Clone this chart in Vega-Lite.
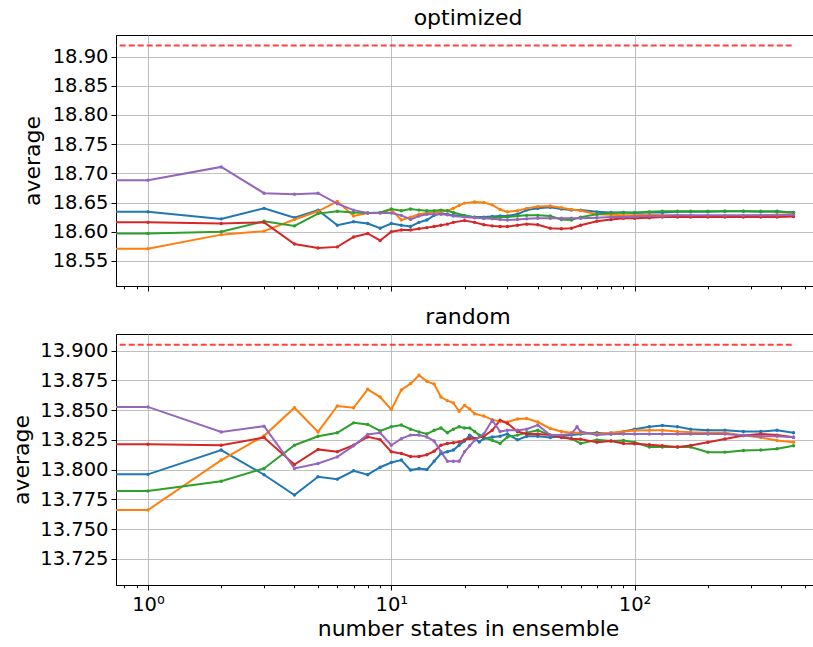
{
"$schema": "https://vega.github.io/schema/vega-lite/v6.json",
"background": "white",
"padding": {"left": 10, "top": 6, "right": 0, "bottom": 0},
"spacing": 13,
"config": {
  "font": "DejaVu Sans",
  "view": {"stroke": "black", "strokeWidth": 1},
  "axis": {"domainColor": "black", "tickColor": "black", "labelColor": "black", "titleColor": "black", "labelFontSize": 19.5, "titleFontSize": 22, "titleFontWeight": "normal", "gridColor": "#b0b0b0", "gridWidth": 0.8, "labelFont": "DejaVu Sans", "titleFont": "DejaVu Sans"},
  "title": {"fontSize": 22, "fontWeight": "normal", "font": "DejaVu Sans", "color": "black", "offset": 5}
},
"datasets": {
  "refs": [
    {"p": "optimized", "x0": 0.5, "x1": 450, "y": 18.919},
    {"p": "random", "x0": 0.5, "x1": 450, "y": 13.905}
  ],
  "series": [
    {"p":"optimized","s":"s0","n":0.5,"v":18.634},{"p":"optimized","s":"s0","n":1,"v":18.634},{"p":"optimized","s":"s0","n":2,"v":18.622},{"p":"optimized","s":"s0","n":3,"v":18.640},{"p":"optimized","s":"s0","n":4,"v":18.624},{"p":"optimized","s":"s0","n":5,"v":18.637},{"p":"optimized","s":"s0","n":6,"v":18.611},{"p":"optimized","s":"s0","n":7,"v":18.617},{"p":"optimized","s":"s0","n":8,"v":18.614},{"p":"optimized","s":"s0","n":9,"v":18.606},{"p":"optimized","s":"s0","n":10,"v":18.614},{"p":"optimized","s":"s0","n":11,"v":18.611},{"p":"optimized","s":"s0","n":12,"v":18.609},{"p":"optimized","s":"s0","n":13,"v":18.616},{"p":"optimized","s":"s0","n":14,"v":18.620},{"p":"optimized","s":"s0","n":15,"v":18.628},{"p":"optimized","s":"s0","n":16,"v":18.631},{"p":"optimized","s":"s0","n":17,"v":18.630},{"p":"optimized","s":"s0","n":18,"v":18.628},{"p":"optimized","s":"s0","n":20,"v":18.627},{"p":"optimized","s":"s0","n":22,"v":18.625},{"p":"optimized","s":"s0","n":24,"v":18.625},{"p":"optimized","s":"s0","n":26,"v":18.626},{"p":"optimized","s":"s0","n":28,"v":18.627},{"p":"optimized","s":"s0","n":30,"v":18.627},{"p":"optimized","s":"s0","n":33,"v":18.630},{"p":"optimized","s":"s0","n":36,"v":18.637},{"p":"optimized","s":"s0","n":40,"v":18.640},{"p":"optimized","s":"s0","n":45,"v":18.642},{"p":"optimized","s":"s0","n":50,"v":18.639},{"p":"optimized","s":"s0","n":55,"v":18.637},{"p":"optimized","s":"s0","n":60,"v":18.637},{"p":"optimized","s":"s0","n":70,"v":18.634},{"p":"optimized","s":"s0","n":80,"v":18.633},{"p":"optimized","s":"s0","n":90,"v":18.633},{"p":"optimized","s":"s0","n":100,"v":18.632},{"p":"optimized","s":"s0","n":115,"v":18.633},{"p":"optimized","s":"s0","n":130,"v":18.633},{"p":"optimized","s":"s0","n":150,"v":18.634},{"p":"optimized","s":"s0","n":170,"v":18.634},{"p":"optimized","s":"s0","n":200,"v":18.634},{"p":"optimized","s":"s0","n":235,"v":18.635},{"p":"optimized","s":"s0","n":280,"v":18.635},{"p":"optimized","s":"s0","n":330,"v":18.634},{"p":"optimized","s":"s0","n":385,"v":18.635},{"p":"optimized","s":"s0","n":450,"v":18.633},
    {"p":"optimized","s":"s1","n":0.5,"v":18.571},{"p":"optimized","s":"s1","n":1,"v":18.571},{"p":"optimized","s":"s1","n":2,"v":18.595},{"p":"optimized","s":"s1","n":3,"v":18.601},{"p":"optimized","s":"s1","n":4,"v":18.621},{"p":"optimized","s":"s1","n":5,"v":18.635},{"p":"optimized","s":"s1","n":6,"v":18.652},{"p":"optimized","s":"s1","n":7,"v":18.627},{"p":"optimized","s":"s1","n":8,"v":18.632},{"p":"optimized","s":"s1","n":9,"v":18.632},{"p":"optimized","s":"s1","n":10,"v":18.638},{"p":"optimized","s":"s1","n":11,"v":18.620},{"p":"optimized","s":"s1","n":12,"v":18.625},{"p":"optimized","s":"s1","n":13,"v":18.630},{"p":"optimized","s":"s1","n":14,"v":18.632},{"p":"optimized","s":"s1","n":15,"v":18.633},{"p":"optimized","s":"s1","n":16,"v":18.634},{"p":"optimized","s":"s1","n":17,"v":18.636},{"p":"optimized","s":"s1","n":18,"v":18.640},{"p":"optimized","s":"s1","n":19,"v":18.645},{"p":"optimized","s":"s1","n":20,"v":18.649},{"p":"optimized","s":"s1","n":22,"v":18.651},{"p":"optimized","s":"s1","n":24,"v":18.650},{"p":"optimized","s":"s1","n":26,"v":18.646},{"p":"optimized","s":"s1","n":28,"v":18.638},{"p":"optimized","s":"s1","n":30,"v":18.634},{"p":"optimized","s":"s1","n":33,"v":18.636},{"p":"optimized","s":"s1","n":36,"v":18.640},{"p":"optimized","s":"s1","n":40,"v":18.643},{"p":"optimized","s":"s1","n":45,"v":18.644},{"p":"optimized","s":"s1","n":50,"v":18.641},{"p":"optimized","s":"s1","n":55,"v":18.638},{"p":"optimized","s":"s1","n":60,"v":18.636},{"p":"optimized","s":"s1","n":70,"v":18.630},{"p":"optimized","s":"s1","n":80,"v":18.629},{"p":"optimized","s":"s1","n":90,"v":18.628},{"p":"optimized","s":"s1","n":100,"v":18.628},{"p":"optimized","s":"s1","n":115,"v":18.629},{"p":"optimized","s":"s1","n":130,"v":18.628},{"p":"optimized","s":"s1","n":150,"v":18.628},{"p":"optimized","s":"s1","n":170,"v":18.627},{"p":"optimized","s":"s1","n":200,"v":18.627},{"p":"optimized","s":"s1","n":235,"v":18.626},{"p":"optimized","s":"s1","n":280,"v":18.627},{"p":"optimized","s":"s1","n":330,"v":18.628},{"p":"optimized","s":"s1","n":385,"v":18.629},{"p":"optimized","s":"s1","n":450,"v":18.630},
    {"p":"optimized","s":"s2","n":0.5,"v":18.597},{"p":"optimized","s":"s2","n":1,"v":18.597},{"p":"optimized","s":"s2","n":2,"v":18.600},{"p":"optimized","s":"s2","n":3,"v":18.618},{"p":"optimized","s":"s2","n":4,"v":18.610},{"p":"optimized","s":"s2","n":5,"v":18.631},{"p":"optimized","s":"s2","n":6,"v":18.635},{"p":"optimized","s":"s2","n":7,"v":18.633},{"p":"optimized","s":"s2","n":8,"v":18.632},{"p":"optimized","s":"s2","n":9,"v":18.633},{"p":"optimized","s":"s2","n":10,"v":18.639},{"p":"optimized","s":"s2","n":11,"v":18.636},{"p":"optimized","s":"s2","n":12,"v":18.639},{"p":"optimized","s":"s2","n":13,"v":18.637},{"p":"optimized","s":"s2","n":14,"v":18.636},{"p":"optimized","s":"s2","n":15,"v":18.636},{"p":"optimized","s":"s2","n":16,"v":18.637},{"p":"optimized","s":"s2","n":17,"v":18.636},{"p":"optimized","s":"s2","n":18,"v":18.633},{"p":"optimized","s":"s2","n":20,"v":18.628},{"p":"optimized","s":"s2","n":22,"v":18.625},{"p":"optimized","s":"s2","n":24,"v":18.623},{"p":"optimized","s":"s2","n":26,"v":18.624},{"p":"optimized","s":"s2","n":28,"v":18.625},{"p":"optimized","s":"s2","n":30,"v":18.625},{"p":"optimized","s":"s2","n":33,"v":18.627},{"p":"optimized","s":"s2","n":36,"v":18.628},{"p":"optimized","s":"s2","n":40,"v":18.628},{"p":"optimized","s":"s2","n":45,"v":18.627},{"p":"optimized","s":"s2","n":50,"v":18.621},{"p":"optimized","s":"s2","n":55,"v":18.620},{"p":"optimized","s":"s2","n":60,"v":18.625},{"p":"optimized","s":"s2","n":70,"v":18.630},{"p":"optimized","s":"s2","n":80,"v":18.632},{"p":"optimized","s":"s2","n":90,"v":18.633},{"p":"optimized","s":"s2","n":100,"v":18.633},{"p":"optimized","s":"s2","n":115,"v":18.634},{"p":"optimized","s":"s2","n":130,"v":18.635},{"p":"optimized","s":"s2","n":150,"v":18.635},{"p":"optimized","s":"s2","n":170,"v":18.635},{"p":"optimized","s":"s2","n":200,"v":18.635},{"p":"optimized","s":"s2","n":235,"v":18.635},{"p":"optimized","s":"s2","n":280,"v":18.635},{"p":"optimized","s":"s2","n":330,"v":18.635},{"p":"optimized","s":"s2","n":385,"v":18.634},{"p":"optimized","s":"s2","n":450,"v":18.633},
    {"p":"optimized","s":"s3","n":0.5,"v":18.616},{"p":"optimized","s":"s3","n":1,"v":18.616},{"p":"optimized","s":"s3","n":2,"v":18.614},{"p":"optimized","s":"s3","n":3,"v":18.616},{"p":"optimized","s":"s3","n":4,"v":18.579},{"p":"optimized","s":"s3","n":5,"v":18.572},{"p":"optimized","s":"s3","n":6,"v":18.574},{"p":"optimized","s":"s3","n":7,"v":18.591},{"p":"optimized","s":"s3","n":8,"v":18.597},{"p":"optimized","s":"s3","n":9,"v":18.585},{"p":"optimized","s":"s3","n":10,"v":18.600},{"p":"optimized","s":"s3","n":11,"v":18.603},{"p":"optimized","s":"s3","n":12,"v":18.603},{"p":"optimized","s":"s3","n":13,"v":18.605},{"p":"optimized","s":"s3","n":14,"v":18.607},{"p":"optimized","s":"s3","n":15,"v":18.609},{"p":"optimized","s":"s3","n":16,"v":18.611},{"p":"optimized","s":"s3","n":17,"v":18.613},{"p":"optimized","s":"s3","n":18,"v":18.616},{"p":"optimized","s":"s3","n":20,"v":18.619},{"p":"optimized","s":"s3","n":22,"v":18.616},{"p":"optimized","s":"s3","n":24,"v":18.612},{"p":"optimized","s":"s3","n":26,"v":18.610},{"p":"optimized","s":"s3","n":28,"v":18.609},{"p":"optimized","s":"s3","n":30,"v":18.609},{"p":"optimized","s":"s3","n":33,"v":18.611},{"p":"optimized","s":"s3","n":36,"v":18.613},{"p":"optimized","s":"s3","n":40,"v":18.612},{"p":"optimized","s":"s3","n":45,"v":18.606},{"p":"optimized","s":"s3","n":50,"v":18.605},{"p":"optimized","s":"s3","n":55,"v":18.606},{"p":"optimized","s":"s3","n":60,"v":18.611},{"p":"optimized","s":"s3","n":70,"v":18.618},{"p":"optimized","s":"s3","n":80,"v":18.621},{"p":"optimized","s":"s3","n":90,"v":18.623},{"p":"optimized","s":"s3","n":100,"v":18.623},{"p":"optimized","s":"s3","n":115,"v":18.624},{"p":"optimized","s":"s3","n":130,"v":18.625},{"p":"optimized","s":"s3","n":150,"v":18.625},{"p":"optimized","s":"s3","n":170,"v":18.625},{"p":"optimized","s":"s3","n":200,"v":18.625},{"p":"optimized","s":"s3","n":235,"v":18.625},{"p":"optimized","s":"s3","n":280,"v":18.625},{"p":"optimized","s":"s3","n":330,"v":18.625},{"p":"optimized","s":"s3","n":385,"v":18.625},{"p":"optimized","s":"s3","n":450,"v":18.626},
    {"p":"optimized","s":"s4","n":0.5,"v":18.688},{"p":"optimized","s":"s4","n":1,"v":18.688},{"p":"optimized","s":"s4","n":2,"v":18.711},{"p":"optimized","s":"s4","n":3,"v":18.666},{"p":"optimized","s":"s4","n":4,"v":18.664},{"p":"optimized","s":"s4","n":5,"v":18.666},{"p":"optimized","s":"s4","n":6,"v":18.648},{"p":"optimized","s":"s4","n":7,"v":18.637},{"p":"optimized","s":"s4","n":8,"v":18.632},{"p":"optimized","s":"s4","n":9,"v":18.632},{"p":"optimized","s":"s4","n":10,"v":18.632},{"p":"optimized","s":"s4","n":11,"v":18.628},{"p":"optimized","s":"s4","n":12,"v":18.621},{"p":"optimized","s":"s4","n":13,"v":18.627},{"p":"optimized","s":"s4","n":14,"v":18.630},{"p":"optimized","s":"s4","n":15,"v":18.630},{"p":"optimized","s":"s4","n":16,"v":18.630},{"p":"optimized","s":"s4","n":17,"v":18.629},{"p":"optimized","s":"s4","n":18,"v":18.627},{"p":"optimized","s":"s4","n":20,"v":18.625},{"p":"optimized","s":"s4","n":22,"v":18.624},{"p":"optimized","s":"s4","n":24,"v":18.623},{"p":"optimized","s":"s4","n":26,"v":18.622},{"p":"optimized","s":"s4","n":28,"v":18.621},{"p":"optimized","s":"s4","n":30,"v":18.620},{"p":"optimized","s":"s4","n":33,"v":18.621},{"p":"optimized","s":"s4","n":36,"v":18.622},{"p":"optimized","s":"s4","n":40,"v":18.623},{"p":"optimized","s":"s4","n":45,"v":18.623},{"p":"optimized","s":"s4","n":50,"v":18.623},{"p":"optimized","s":"s4","n":55,"v":18.623},{"p":"optimized","s":"s4","n":60,"v":18.623},{"p":"optimized","s":"s4","n":70,"v":18.624},{"p":"optimized","s":"s4","n":80,"v":18.625},{"p":"optimized","s":"s4","n":90,"v":18.625},{"p":"optimized","s":"s4","n":100,"v":18.626},{"p":"optimized","s":"s4","n":115,"v":18.627},{"p":"optimized","s":"s4","n":130,"v":18.627},{"p":"optimized","s":"s4","n":150,"v":18.628},{"p":"optimized","s":"s4","n":170,"v":18.628},{"p":"optimized","s":"s4","n":200,"v":18.628},{"p":"optimized","s":"s4","n":235,"v":18.628},{"p":"optimized","s":"s4","n":280,"v":18.628},{"p":"optimized","s":"s4","n":330,"v":18.628},{"p":"optimized","s":"s4","n":385,"v":18.628},{"p":"optimized","s":"s4","n":450,"v":18.629},

    {"p":"random","s":"s0","n":0.5,"v":13.796},{"p":"random","s":"s0","n":1,"v":13.796},{"p":"random","s":"s0","n":2,"v":13.8164},{"p":"random","s":"s0","n":3,"v":13.7957},{"p":"random","s":"s0","n":4,"v":13.7786},{"p":"random","s":"s0","n":5,"v":13.794},{"p":"random","s":"s0","n":6,"v":13.792},{"p":"random","s":"s0","n":7,"v":13.799},{"p":"random","s":"s0","n":8,"v":13.7957},{"p":"random","s":"s0","n":9,"v":13.802},{"p":"random","s":"s0","n":10,"v":13.806},{"p":"random","s":"s0","n":11,"v":13.808},{"p":"random","s":"s0","n":12,"v":13.7996},{"p":"random","s":"s0","n":13,"v":13.801},{"p":"random","s":"s0","n":14,"v":13.800},{"p":"random","s":"s0","n":15,"v":13.807},{"p":"random","s":"s0","n":16,"v":13.8136},{"p":"random","s":"s0","n":17,"v":13.815},{"p":"random","s":"s0","n":18,"v":13.8165},{"p":"random","s":"s0","n":19,"v":13.8205},{"p":"random","s":"s0","n":20,"v":13.824},{"p":"random","s":"s0","n":21,"v":13.829},{"p":"random","s":"s0","n":22,"v":13.826},{"p":"random","s":"s0","n":23,"v":13.8233},{"p":"random","s":"s0","n":24,"v":13.826},{"p":"random","s":"s0","n":26,"v":13.8275},{"p":"random","s":"s0","n":28,"v":13.828},{"p":"random","s":"s0","n":30,"v":13.830},{"p":"random","s":"s0","n":33,"v":13.825},{"p":"random","s":"s0","n":36,"v":13.828},{"p":"random","s":"s0","n":40,"v":13.828},{"p":"random","s":"s0","n":45,"v":13.827},{"p":"random","s":"s0","n":50,"v":13.828},{"p":"random","s":"s0","n":55,"v":13.829},{"p":"random","s":"s0","n":60,"v":13.830},{"p":"random","s":"s0","n":70,"v":13.831},{"p":"random","s":"s0","n":80,"v":13.830},{"p":"random","s":"s0","n":90,"v":13.832},{"p":"random","s":"s0","n":100,"v":13.834},{"p":"random","s":"s0","n":115,"v":13.836},{"p":"random","s":"s0","n":130,"v":13.837},{"p":"random","s":"s0","n":150,"v":13.836},{"p":"random","s":"s0","n":170,"v":13.834},{"p":"random","s":"s0","n":200,"v":13.833},{"p":"random","s":"s0","n":235,"v":13.833},{"p":"random","s":"s0","n":280,"v":13.832},{"p":"random","s":"s0","n":330,"v":13.832},{"p":"random","s":"s0","n":385,"v":13.833},{"p":"random","s":"s0","n":450,"v":13.831},
    {"p":"random","s":"s1","n":0.5,"v":13.766},{"p":"random","s":"s1","n":1,"v":13.766},{"p":"random","s":"s1","n":2,"v":13.808},{"p":"random","s":"s1","n":3,"v":13.8284},{"p":"random","s":"s1","n":4,"v":13.852},{"p":"random","s":"s1","n":5,"v":13.8317},{"p":"random","s":"s1","n":6,"v":13.8535},{"p":"random","s":"s1","n":7,"v":13.852},{"p":"random","s":"s1","n":8,"v":13.8675},{"p":"random","s":"s1","n":9,"v":13.861},{"p":"random","s":"s1","n":10,"v":13.8505},{"p":"random","s":"s1","n":11,"v":13.867},{"p":"random","s":"s1","n":12,"v":13.8723},{"p":"random","s":"s1","n":13,"v":13.8793},{"p":"random","s":"s1","n":14,"v":13.8742},{"p":"random","s":"s1","n":15,"v":13.872},{"p":"random","s":"s1","n":16,"v":13.861},{"p":"random","s":"s1","n":17,"v":13.858},{"p":"random","s":"s1","n":18,"v":13.856},{"p":"random","s":"s1","n":19,"v":13.849},{"p":"random","s":"s1","n":20,"v":13.854},{"p":"random","s":"s1","n":21,"v":13.851},{"p":"random","s":"s1","n":22,"v":13.847},{"p":"random","s":"s1","n":24,"v":13.845},{"p":"random","s":"s1","n":26,"v":13.842},{"p":"random","s":"s1","n":28,"v":13.8405},{"p":"random","s":"s1","n":30,"v":13.840},{"p":"random","s":"s1","n":33,"v":13.8425},{"p":"random","s":"s1","n":36,"v":13.843},{"p":"random","s":"s1","n":40,"v":13.840},{"p":"random","s":"s1","n":45,"v":13.8346},{"p":"random","s":"s1","n":50,"v":13.832},{"p":"random","s":"s1","n":55,"v":13.831},{"p":"random","s":"s1","n":60,"v":13.831},{"p":"random","s":"s1","n":70,"v":13.830},{"p":"random","s":"s1","n":80,"v":13.831},{"p":"random","s":"s1","n":90,"v":13.832},{"p":"random","s":"s1","n":100,"v":13.8328},{"p":"random","s":"s1","n":115,"v":13.833},{"p":"random","s":"s1","n":130,"v":13.833},{"p":"random","s":"s1","n":150,"v":13.832},{"p":"random","s":"s1","n":170,"v":13.8314},{"p":"random","s":"s1","n":200,"v":13.831},{"p":"random","s":"s1","n":235,"v":13.831},{"p":"random","s":"s1","n":280,"v":13.8286},{"p":"random","s":"s1","n":330,"v":13.827},{"p":"random","s":"s1","n":385,"v":13.8244},{"p":"random","s":"s1","n":450,"v":13.823},
    {"p":"random","s":"s2","n":0.5,"v":13.782},{"p":"random","s":"s2","n":1,"v":13.782},{"p":"random","s":"s2","n":2,"v":13.7903},{"p":"random","s":"s2","n":3,"v":13.801},{"p":"random","s":"s2","n":4,"v":13.8205},{"p":"random","s":"s2","n":5,"v":13.828},{"p":"random","s":"s2","n":6,"v":13.831},{"p":"random","s":"s2","n":7,"v":13.8393},{"p":"random","s":"s2","n":8,"v":13.838},{"p":"random","s":"s2","n":9,"v":13.8325},{"p":"random","s":"s2","n":10,"v":13.836},{"p":"random","s":"s2","n":11,"v":13.8375},{"p":"random","s":"s2","n":12,"v":13.834},{"p":"random","s":"s2","n":13,"v":13.8317},{"p":"random","s":"s2","n":14,"v":13.830},{"p":"random","s":"s2","n":15,"v":13.833},{"p":"random","s":"s2","n":16,"v":13.835},{"p":"random","s":"s2","n":17,"v":13.831},{"p":"random","s":"s2","n":18,"v":13.834},{"p":"random","s":"s2","n":19,"v":13.836},{"p":"random","s":"s2","n":20,"v":13.835},{"p":"random","s":"s2","n":21,"v":13.835},{"p":"random","s":"s2","n":22,"v":13.832},{"p":"random","s":"s2","n":23,"v":13.829},{"p":"random","s":"s2","n":24,"v":13.827},{"p":"random","s":"s2","n":26,"v":13.8247},{"p":"random","s":"s2","n":28,"v":13.822},{"p":"random","s":"s2","n":30,"v":13.8275},{"p":"random","s":"s2","n":33,"v":13.829},{"p":"random","s":"s2","n":36,"v":13.831},{"p":"random","s":"s2","n":40,"v":13.833},{"p":"random","s":"s2","n":45,"v":13.829},{"p":"random","s":"s2","n":50,"v":13.8275},{"p":"random","s":"s2","n":55,"v":13.826},{"p":"random","s":"s2","n":60,"v":13.822},{"p":"random","s":"s2","n":70,"v":13.825},{"p":"random","s":"s2","n":80,"v":13.824},{"p":"random","s":"s2","n":90,"v":13.8245},{"p":"random","s":"s2","n":100,"v":13.823},{"p":"random","s":"s2","n":115,"v":13.819},{"p":"random","s":"s2","n":130,"v":13.819},{"p":"random","s":"s2","n":150,"v":13.819},{"p":"random","s":"s2","n":170,"v":13.819},{"p":"random","s":"s2","n":200,"v":13.8147},{"p":"random","s":"s2","n":235,"v":13.8147},{"p":"random","s":"s2","n":280,"v":13.816},{"p":"random","s":"s2","n":330,"v":13.8165},{"p":"random","s":"s2","n":385,"v":13.8175},{"p":"random","s":"s2","n":450,"v":13.820},
    {"p":"random","s":"s3","n":0.5,"v":13.8214},{"p":"random","s":"s3","n":1,"v":13.8214},{"p":"random","s":"s3","n":2,"v":13.8205},{"p":"random","s":"s3","n":3,"v":13.827},{"p":"random","s":"s3","n":4,"v":13.8043},{"p":"random","s":"s3","n":5,"v":13.817},{"p":"random","s":"s3","n":6,"v":13.815},{"p":"random","s":"s3","n":7,"v":13.8205},{"p":"random","s":"s3","n":8,"v":13.8275},{"p":"random","s":"s3","n":9,"v":13.8252},{"p":"random","s":"s3","n":10,"v":13.815},{"p":"random","s":"s3","n":11,"v":13.8135},{"p":"random","s":"s3","n":12,"v":13.811},{"p":"random","s":"s3","n":13,"v":13.811},{"p":"random","s":"s3","n":14,"v":13.8125},{"p":"random","s":"s3","n":15,"v":13.8155},{"p":"random","s":"s3","n":16,"v":13.8205},{"p":"random","s":"s3","n":17,"v":13.822},{"p":"random","s":"s3","n":18,"v":13.8225},{"p":"random","s":"s3","n":19,"v":13.8233},{"p":"random","s":"s3","n":20,"v":13.825},{"p":"random","s":"s3","n":21,"v":13.8261},{"p":"random","s":"s3","n":22,"v":13.826},{"p":"random","s":"s3","n":24,"v":13.828},{"p":"random","s":"s3","n":26,"v":13.833},{"p":"random","s":"s3","n":28,"v":13.8415},{"p":"random","s":"s3","n":30,"v":13.839},{"p":"random","s":"s3","n":33,"v":13.832},{"p":"random","s":"s3","n":36,"v":13.830},{"p":"random","s":"s3","n":40,"v":13.830},{"p":"random","s":"s3","n":45,"v":13.829},{"p":"random","s":"s3","n":50,"v":13.827},{"p":"random","s":"s3","n":55,"v":13.826},{"p":"random","s":"s3","n":60,"v":13.8255},{"p":"random","s":"s3","n":70,"v":13.823},{"p":"random","s":"s3","n":80,"v":13.824},{"p":"random","s":"s3","n":90,"v":13.822},{"p":"random","s":"s3","n":100,"v":13.8217},{"p":"random","s":"s3","n":115,"v":13.821},{"p":"random","s":"s3","n":130,"v":13.820},{"p":"random","s":"s3","n":150,"v":13.819},{"p":"random","s":"s3","n":170,"v":13.8203},{"p":"random","s":"s3","n":200,"v":13.823},{"p":"random","s":"s3","n":235,"v":13.8258},{"p":"random","s":"s3","n":280,"v":13.8286},{"p":"random","s":"s3","n":330,"v":13.830},{"p":"random","s":"s3","n":385,"v":13.829},{"p":"random","s":"s3","n":450,"v":13.8272},
    {"p":"random","s":"s4","n":0.5,"v":13.8527},{"p":"random","s":"s4","n":1,"v":13.8527},{"p":"random","s":"s4","n":2,"v":13.8317},{"p":"random","s":"s4","n":3,"v":13.8365},{"p":"random","s":"s4","n":4,"v":13.801},{"p":"random","s":"s4","n":5,"v":13.8052},{"p":"random","s":"s4","n":6,"v":13.8107},{"p":"random","s":"s4","n":7,"v":13.820},{"p":"random","s":"s4","n":8,"v":13.8295},{"p":"random","s":"s4","n":9,"v":13.831},{"p":"random","s":"s4","n":10,"v":13.8205},{"p":"random","s":"s4","n":11,"v":13.826},{"p":"random","s":"s4","n":12,"v":13.829},{"p":"random","s":"s4","n":13,"v":13.829},{"p":"random","s":"s4","n":14,"v":13.8275},{"p":"random","s":"s4","n":15,"v":13.824},{"p":"random","s":"s4","n":16,"v":13.815},{"p":"random","s":"s4","n":17,"v":13.8071},{"p":"random","s":"s4","n":18,"v":13.807},{"p":"random","s":"s4","n":19,"v":13.807},{"p":"random","s":"s4","n":20,"v":13.815},{"p":"random","s":"s4","n":21,"v":13.820},{"p":"random","s":"s4","n":22,"v":13.8247},{"p":"random","s":"s4","n":24,"v":13.830},{"p":"random","s":"s4","n":26,"v":13.8415},{"p":"random","s":"s4","n":28,"v":13.832},{"p":"random","s":"s4","n":30,"v":13.833},{"p":"random","s":"s4","n":33,"v":13.833},{"p":"random","s":"s4","n":36,"v":13.834},{"p":"random","s":"s4","n":40,"v":13.8374},{"p":"random","s":"s4","n":45,"v":13.829},{"p":"random","s":"s4","n":50,"v":13.829},{"p":"random","s":"s4","n":55,"v":13.830},{"p":"random","s":"s4","n":58,"v":13.836},{"p":"random","s":"s4","n":60,"v":13.832},{"p":"random","s":"s4","n":70,"v":13.829},{"p":"random","s":"s4","n":80,"v":13.830},{"p":"random","s":"s4","n":90,"v":13.830},{"p":"random","s":"s4","n":100,"v":13.830},{"p":"random","s":"s4","n":115,"v":13.830},{"p":"random","s":"s4","n":130,"v":13.830},{"p":"random","s":"s4","n":150,"v":13.830},{"p":"random","s":"s4","n":170,"v":13.830},{"p":"random","s":"s4","n":200,"v":13.830},{"p":"random","s":"s4","n":235,"v":13.830},{"p":"random","s":"s4","n":280,"v":13.8286},{"p":"random","s":"s4","n":330,"v":13.828},{"p":"random","s":"s4","n":385,"v":13.828},{"p":"random","s":"s4","n":450,"v":13.8272}
  ]
},
"vconcat": [
  {
    "title": "optimized",
    "width": 704,
    "height": 251,
    "layer": [
      {
        "data": {"name": "refs"},
        "transform": [{"filter": "datum.p == 'optimized'"}],
        "mark": {"type": "rule", "color": "#ff2020", "opacity": 0.85, "strokeDash": [6, 3], "strokeWidth": 2, "clip": true},
        "encoding": {
          "x": {"field": "x0", "type": "quantitative", "title": null},
          "x2": {"field": "x1"},
          "y": {"field": "y", "type": "quantitative", "title": "average"}
        }
      },
      {
        "data": {"name": "series"},
        "transform": [{"filter": "datum.p == 'optimized'"}],
        "mark": {"type": "line", "strokeWidth": 2, "clip": true, "point": {"filled": true, "size": 12}},
        "encoding": {
          "x": {"field": "n", "type": "quantitative", "title": null,
            "scale": {"type": "log", "domain": [0.739, 578], "nice": false},
            "axis": {"values": [0.8,0.9,1,2,3,4,5,6,7,8,9,10,20,30,40,50,60,70,80,90,100,200,300,400,500],
              "tickCount": 60,
              "labels": false,
              "tickSize": {"condition": {"test": "datum.value==1||datum.value==10||datum.value==100", "value": 5}, "value": 2.8},
              "gridOpacity": {"condition": {"test": "datum.value==1||datum.value==10||datum.value==100", "value": 1}, "value": 0}}},
          "y": {"field": "v", "type": "quantitative", "title": "average",
            "scale": {"domain": [18.507, 18.937], "nice": false, "zero": false},
            "axis": {"values": [18.55,18.6,18.65,18.7,18.75,18.8,18.85,18.9], "tickCount": 20, "format": ".2f", "labelOverlap": false, "tickSize": 5, "labelPadding": 3, "titlePadding": 8}},
          "color": {"field": "s", "type": "nominal", "legend": null,
            "scale": {"domain": ["s0","s1","s2","s3","s4"], "range": ["#1f77b4","#ff7f0e","#2ca02c","#d62728","#9467bd"]}}
        }
      }
    ]
  },
  {
    "title": "random",
    "width": 704,
    "height": 251,
    "layer": [
      {
        "data": {"name": "refs"},
        "transform": [{"filter": "datum.p == 'random'"}],
        "mark": {"type": "rule", "color": "#ff2020", "opacity": 0.85, "strokeDash": [6, 3], "strokeWidth": 2, "clip": true},
        "encoding": {
          "x": {"field": "x0", "type": "quantitative", "title": "number states in ensemble"},
          "x2": {"field": "x1"},
          "y": {"field": "y", "type": "quantitative", "title": "average"}
        }
      },
      {
        "data": {"name": "series"},
        "transform": [{"filter": "datum.p == 'random'"}],
        "mark": {"type": "line", "strokeWidth": 2, "clip": true, "point": {"filled": true, "size": 12}},
        "encoding": {
          "x": {"field": "n", "type": "quantitative", "title": "number states in ensemble",
            "scale": {"type": "log", "domain": [0.739, 578], "nice": false},
            "axis": {"values": [0.8,0.9,1,2,3,4,5,6,7,8,9,10,20,30,40,50,60,70,80,90,100,200,300,400,500],
              "tickCount": 60,
              "labelExpr": "datum.value==1 ? '10⁰' : datum.value==10 ? '10¹' : datum.value==100 ? '10²' : ''",
              "labelOverlap": false, "labelFlush": false, "labelPadding": 5, "titlePadding": 5,
              "tickSize": {"condition": {"test": "datum.value==1||datum.value==10||datum.value==100", "value": 5}, "value": 2.8},
              "gridOpacity": {"condition": {"test": "datum.value==1||datum.value==10||datum.value==100", "value": 1}, "value": 0}}},
          "y": {"field": "v", "type": "quantitative", "title": "average",
            "scale": {"domain": [13.703, 13.914], "nice": false, "zero": false},
            "axis": {"values": [13.725,13.75,13.775,13.8,13.825,13.85,13.875,13.9], "tickCount": 20, "format": ".3f", "labelOverlap": false, "tickSize": 5, "labelPadding": 3, "titlePadding": 6}},
          "color": {"field": "s", "type": "nominal", "legend": null,
            "scale": {"domain": ["s0","s1","s2","s3","s4"], "range": ["#1f77b4","#ff7f0e","#2ca02c","#d62728","#9467bd"]}}
        }
      }
    ]
  }
]
}
